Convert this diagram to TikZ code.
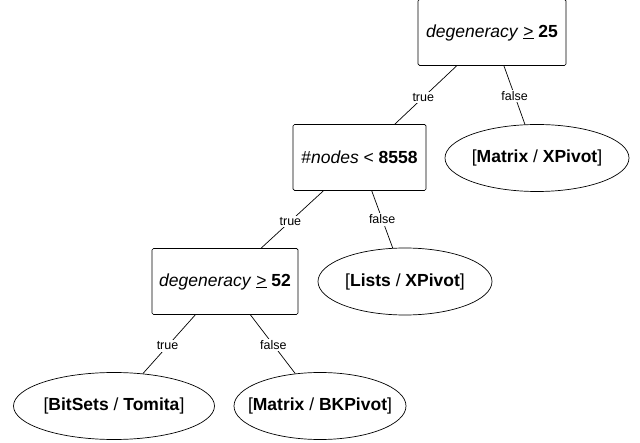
\documentclass[tikz,border=0pt]{standalone}
\usepackage{fontspec}
\setmainfont{Liberation Sans}
\usetikzlibrary{shapes.geometric}
\newcommand\geqmark{\underline{>}}
\tikzset{
  testbox/.style={draw, rounded corners=1.5pt, minimum width=148pt, minimum height=66pt, inner sep=0pt, font=\fontsize{17.5}{20}\selectfont, line width=0.7pt},
  leaf/.style={draw, ellipse, inner ysep=0pt, inner xsep=-30pt, minimum height=67pt, font=\fontsize{17.5}{20}\selectfont, line width=0.7pt},
  edge/.style={line width=0.7pt},
  elab/.style={fill=white, inner sep=1.5pt, font=\fontsize{12.5}{15}\selectfont}
}
\begin{document}
\begin{tikzpicture}[x=1pt,y=-1pt]
\useasboundingbox (0,0) rectangle (640,443);
\node[testbox] (b1) at (492,32.5) {\textit{degeneracy} \geqmark{} \textbf{25}};
\node[testbox, minimum width=133pt] (b2) at (359.5,157.5) {\#\textit{nodes} < \textbf{8558}};
\node[testbox, minimum width=146pt] (b3) at (225,281.5) {\textit{degeneracy} \geqmark{} \textbf{52}};
\node[leaf, minimum width=184pt] (l1) at (537,158) {[\textbf{Matrix} / \textbf{XPivot}]};
\node[leaf, minimum width=174pt] (l2) at (405,281.5) {[\textbf{Lists} / \textbf{XPivot}]};
\node[leaf, minimum width=201pt] (l3) at (114,406) {[\textbf{BitSets} / \textbf{Tomita}]};
\node[leaf, minimum width=172pt] (l4) at (320,406) {[\textbf{Matrix} / \textbf{BKPivot}]};
\draw[edge] (b1) -- node[elab, pos=0.54] {true} (b2);
\draw[edge] (b1) -- node[elab, pos=0.51] {false} (l1);
\draw[edge] (b2) -- node[elab, pos=0.53] {true} (b3);
\draw[edge] (b2) -- node[elab, pos=0.5] {false} (l2);
\draw[edge] (b3) -- node[elab, pos=0.53] {true} (l3);
\draw[edge] (b3) -- node[elab, pos=0.51] {false} (l4);
\end{tikzpicture}
\end{document}
